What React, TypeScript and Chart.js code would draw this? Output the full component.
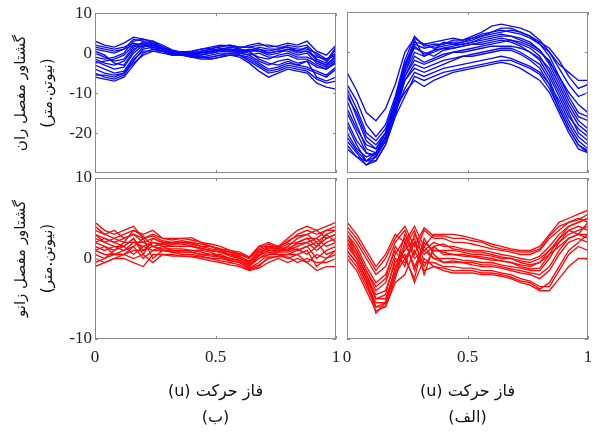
import React, { useEffect, useRef } from 'react';
import { Chart, registerables } from 'chart.js';

Chart.register(...registerables);

// movement phase u
const U = [0, 0.04, 0.08, 0.12, 0.16, 0.2, 0.24, 0.28, 0.32, 0.36, 0.4, 0.44, 0.48, 0.52, 0.56, 0.6, 0.64, 0.68, 0.72, 0.76, 0.8, 0.84, 0.88, 0.92, 0.96, 1];

const X_TICKS = [0, 0.5, 1];
const HIP_Y_TICKS = [10, 0, -10, -20];
const KNEE_Y_TICKS = [10, 0, -10];

const Y_TITLE_HIP = ['\u202Bگشتاور مفصل ران\u202C', '\u202B(نیوتن.متر)\u202C'];
const Y_TITLE_KNEE = ['\u202Bگشتاور مفصل زانو\u202C', '\u202B(نیوتن.متر)\u202C'];
const X_TITLE_B = ['\u202Bفاز حرکت (u)\u202C', '\u202B(ب)\u202C'];
const X_TITLE_ALEF = ['\u202Bفاز حرکت (u)\u202C', '\u202B(الف)\u202C'];

// hip moment, panel (ب)
const HIP_B = [
  [3, 2, 1.5, 2.5, 4, 3.5, 2.5, 1.5, 0.5, 0.3, 0.5, 1, 1.5, 2, 1.8, 1.2, 2, 2.5, 1.5, 1.8, 2.5, 2, 3, 0.5, -0.5, 2],
  [1, 0.5, 0, 1, 3.5, 3, 2, 1, 0, 0, -0.3, 0.5, 0.8, 1, 1.5, 1, 0.5, 1, 0, 0.5, 1, 0, 0.5, -1, -1.5, 0],
  [-1, -1.5, -1, 0, 3, 3.5, 3, 2, 0.8, 0.2, 0, 0.2, 0.5, 1.2, 1, 0.5, 0, -1, -1.5, -0.5, 0, -1, -1, -2, -3, -1],
  [-3, -4, -5, -4.5, -1, 1.5, 2, 1.2, 0.5, 0, -0.5, -0.5, 0, 0.5, 0.5, 0, -0.5, -2, -3, -2, -1.5, -2.5, -2, -3.5, -4, -2.5],
  [-5, -6, -6.5, -5.5, -2, 1, 1.5, 1, 0, -0.3, -0.8, -1, -0.5, 0, 0, -0.5, -1.5, -3, -4.5, -4, -3, -3.5, -4, -5, -6, -4],
  [-6, -6.5, -7, -6, -3, 0, 1, 0.5, -0.5, -0.5, -1, -1.5, -1.5, -1, -0.5, -1, -2.5, -4.5, -6, -5, -4, -4.5, -5, -7.5, -8.5, -9],
  [2, 1.5, 1, 1.5, 2.5, 2, 1.5, 0.5, 0, 0.2, 0.3, 1, 1.2, 1.5, 2, 1.5, 1.5, 2, 2, 1.5, 1.5, 1, 1, 0, -1.5, -0.5],
  [0, -1, -2, -1.5, 1.5, 2.5, 2.5, 1.5, 0.5, 0, -0.2, 0, 0.3, 0.8, 1, 0.5, 1, 0.5, -0.5, 0, 1, 0.5, 0.5, -1.5, -2.5, 1],
  [-2, -3, -4, -3.5, 0, 2, 1.5, 0.5, 0, -0.5, -0.5, -1, -1, -0.5, 0, 0, 0.5, -1.5, -2.5, -3, -2, -3, -3.5, -4.5, -5.5, -3.5],
  [-4, -5, -5.5, -5, -2.5, -0.5, 0.5, 0, -0.5, -0.5, -0.8, -1.2, -1, -0.5, -0.5, -0.5, -1, -2.5, -4, -3.5, -2.5, -3, -2, -6, -7, -6],
  [1.5, 1, 0.5, 1, 2, 1.5, 3, 1.5, 0.5, 0.3, 0, 0.5, 1, 1.8, 2, 1.5, 1.5, 1, 0.5, 1, 2, 1.5, 2, -0.5, -2, 1.5],
  [-2.5, -2, -1.5, -0.5, 2, 2.5, 1, 0.5, -0.5, -0.3, -0.5, -0.5, 0, 0.5, 0.5, 0, -0.5, 0, -1, -1, -0.5, -1.5, -1.5, -3, -4, -2],
  [0.5, -0.5, -2.5, -3, 0.5, 3, 2, 1, 0.3, 0, 0.3, 0.2, 0.5, 1, 0.8, 0.3, 0.5, 1.5, 1, 1, 1.5, 0.5, 1.5, -2, -3, -0.5],
  [-5.5, -5.5, -6, -5, -1.5, 0.5, 0.5, 0.5, -0.3, -0.5, -1, -1, -1.5, -1, -0.5, -0.5, -2, -3.5, -5, -4.5, -3.5, -4, -4.5, -6.5, -7.5, -7],
  [-1.5, -2.5, -3, -2, 1, 2, 2.5, 1, 0.3, 0, -0.3, -0.3, 0, 0.5, 1, 0.8, 0.5, 0.5, 0, 0.5, 0.5, -0.5, 0, -2.5, -3.5, -1.5],
];

// hip moment, panel (الف)
const HIP_ALEF = [
  [-5, -9.5, -15, -17, -14, -8, 0, 3.5, 2, 2.5, 3, 3.5, 3, 4, 5, 6.5, 7, 6.5, 6, 5, 3, 0, -3, -5, -7, -7],
  [-10, -16, -22, -24, -20, -13, -4, 2, 1, 1.5, 2, 2.5, 2.5, 3, 4, 5, 6, 6, 5, 4, 2, -1, -6, -10, -13, -15],
  [-15, -20, -25, -26, -22, -14, -5, 0, -1, 0, 1, 1.5, 2, 2.5, 3, 3.5, 4, 4, 3.5, 2.5, 0.5, -3, -8, -13, -17, -19],
  [-18, -23, -27, -27, -23, -16, -6, -2, -3, -2, -1, 0, 0.5, 1, 1.5, 2, 2.5, 3, 2, 1, -1, -5, -10, -15, -20, -22],
  [-22, -25, -28, -26, -21, -15, -7, -4, -5, -4, -3, -2, -1, -0.5, 0, 0.5, 1, 1, 0, -1.5, -3, -7, -13, -18, -22, -24],
  [-24, -26, -27, -25, -20, -14, -10, -7, -8.5, -7, -6, -5, -4.5, -4, -3.5, -3, -2.5, -3, -4, -5.5, -7, -10, -15, -20, -24, -25],
  [-8, -12, -18, -21, -18, -11, -2, 4, 1.5, 2, 2, 3, 3, 3.5, 4.5, 5, 5.5, 5, 4.5, 3.5, 2, 0, -4, -8, -11, -10],
  [-12, -18, -24, -25, -21, -12, -3, 1, 0, -1, 0.5, 1, 1.5, 2, 2.5, 3, 3.5, 3, 2.5, 1.5, 0, -2, -7, -12, -16, -17],
  [-20, -24, -26, -25, -22, -15, -7, -3, -4, -3, -2, -1.5, -1, -1, -0.5, 0, 0.5, 0.5, -0.5, -2, -4, -8, -14, -19, -23, -25],
  [-14, -19, -23, -24, -20, -13, -5, 1.5, -0.5, 0.5, 1, 1, 1.5, 2, 2, 2.5, 3, 2.5, 1.5, 0, -2, -6, -11, -16, -19, -21],
  [-17, -22, -25, -25.5, -21, -14, -6, -1, -2.5, -1.5, -0.5, 0, 0, 0.5, 1, 1.5, 1.5, 1.5, 1, 0, -1.5, -4, -9, -14, -18, -20],
  [-9, -14, -20, -22, -19, -12, -3, 2.5, 2, 1, 1.5, 2, 2.5, 3.5, 4, 4.5, 5, 5.5, 5, 4, 2.5, 1, -2, -6, -9, -8],
  [-21, -24.5, -27, -26, -22, -15, -9, -5, -6, -5, -4, -3.5, -3, -2.5, -2, -1.5, -1, -1.5, -2.5, -3.5, -5, -8, -12, -17, -21, -23],
  [-11, -15, -21, -23, -20, -12, -3.5, 3, -1, 0.5, 2.5, 2, 2, 2.5, 3.5, 4, 4.5, 4, 3, 2, 0.5, -2.5, -6, -11, -15, -16],
  [-23, -26, -28, -27, -23, -16, -11, -6, -7, -6, -5, -4.5, -4, -3.5, -3, -2.5, -2, -2, -3, -4, -5.5, -9, -14, -19, -23, -24.5],
];

// knee moment, panel (ب)
const KNEE_B = [
  [4.5, 3.5, 3, 3.5, 4, 2.5, 3, 2.5, 2.3, 2.5, 2.6, 2, 1.8, 1.5, 1, 0.8, 0.2, 1.5, 2, 1.5, 2.5, 3.5, 4, 3.5, 4, 4.5],
  [3, 2.5, 2, 2.5, 3, 2, 2.5, 2, 2, 2, 2, 1.5, 1.5, 1, 0.5, 0.5, 0, 1, 1.5, 1, 1.5, 2.5, 3, 2, 3, 3.5],
  [2, 1.5, 1, 2, 2, 1.5, 2, 1.5, 1.5, 1.5, 1.5, 1.2, 1, 0.8, 0.3, 0, -0.5, 0.5, 1, 1, 1, 1.5, 2, 1, 2, 2.5],
  [1, 0.5, 0.5, 1, 1.5, 2.5, 0, 1, 1, 1, 1, 0.8, 0.5, 0.5, 0, -0.3, -1, 0, 0.8, 0.5, 0.5, 1, 1.5, 0, 1, 1.5],
  [0, -0.5, 0, 0.5, 1, 1, 1.5, 1, 0.8, 0.5, 0.5, 0.3, 0, 0, -0.3, -0.5, -1.2, -0.5, 0.5, 0.5, 0, 0.5, 1, -1, 0, 0.5],
  [-1, -0.5, 0, 0, -0.5, -1, 0.5, 0.5, 0.3, 0.3, 0.2, 0, -0.3, -0.5, -0.8, -1, -1.5, -1.2, -0.5, 0, -0.5, 0, -0.5, -1.5, -1, -1],
  [3.5, 3, 2.5, 3, 3.5, 3, 3.5, 2.5, 2.5, 2.5, 2.3, 2, 1.5, 1.2, 1, 0.5, 0, 1.5, 1.5, 1.5, 2, 3, 3.5, 3, 3.5, 4],
  [2.5, 2, 1.5, 1.5, 2.5, 0.5, 2.5, 2, 1.8, 2, 1.8, 1.5, 1.2, 1, 0.8, 0.3, -0.5, 0.8, 1.2, 1.2, 1.8, 2, 2.5, 2.5, 1.5, 2],
  [1.5, 1, 1.5, 1, 2, 2, 1.5, 1.2, 1.2, 1.2, 1, 1, 0.8, 0.3, 0, -0.2, -1, 0.3, 1, 0.8, 0.8, 1.2, 0.5, 1.5, 2.5, 3],
  [0.5, 0, 1, 1.5, 0.5, 1.5, 1, 1.5, 1, 0.8, 0.8, 0.5, 0.3, 0.2, -0.2, -0.5, -1.3, -0.8, 0, 0.3, 0.5, 0.5, -0.5, 0.5, 0, 1],
  [4, 3, 3.5, 2.5, 3, 2.5, 2.8, 2.2, 2, 2.2, 2, 1.8, 1.5, 1.2, 0.8, 0.6, 0.1, 1.2, 1.8, 1.3, 2.2, 2.8, 3, 3.5, 2.5, 3],
  [-0.5, 0, 0.5, 0.5, 0, 0.5, -0.5, 0.5, 0.5, 0.3, 0.3, 0.2, 0, -0.3, -0.5, -0.8, -1.4, -1, 0.2, 0.2, 0.2, -0.5, 0, -0.5, -0.5, 0],
  [2, 2.5, 2, 1.5, 2.5, 1, 2, 1.8, 1.5, 1.5, 1.5, 1.2, 1, 0.8, 0.5, 0.2, -0.3, 0.8, 1.3, 1.5, 1, 2, 2.5, 1.5, 3, 2],
  [1, 1.5, 0.5, 0.5, 1.5, 0, 1, 1, 0.8, 0.8, 0.8, 0.5, 0.5, 0.3, 0, -0.3, -0.8, 0, 0.5, 0.8, 1.5, 1, 1.5, 2, 0.5, 1],
  [3, 2, 2.5, 2, 3.5, 2.8, 1.5, 1.8, 1.8, 1.8, 1.6, 1.3, 1, 0.8, 0.5, 0, -0.7, 0.5, 1.5, 1.2, 1.2, 1.8, 2, 2.5, 3.5, 3.5],
];

// knee moment, panel (الف)
const KNEE_ALEF = [
  [4.5, 3, 1, -1, 0.5, 3, 2, 4, 1.5, 3, 3, 3, 2.8, 2.5, 2.2, 1.8, 1.5, 1.2, 1, 1, 1.5, 3, 4.5, 5, 5.5, 6],
  [3.5, 2, 0, -2, -1, 2, 3.5, 0.5, 3.5, 2.5, 2.5, 2, 2, 1.8, 1.5, 1.2, 1, 0.8, 0.5, 0.5, 1, 2.5, 3.5, 4.5, 5, 4.5],
  [3, 1.5, -1, -3, -2, 1, -1, 3, 1, 2, 1.5, 1.5, 1.2, 1, 1, 0.8, 0.5, 0.3, 0, -0.2, 0.3, 1.5, 3, 4, 4.5, 5],
  [2.5, 1, -1.5, -4, -3, 0.5, 2.5, -1.5, 2, 1, 1, 1, 0.8, 0.5, 0.5, 0.3, 0, 0, -0.3, -0.5, 0, 1, 2, 3.5, 4, 3.5],
  [2, 0.5, -2, -4.5, -4, -0.5, 1, 2.5, -2, 1.5, 0.5, 0.5, 0.3, 0.2, 0, -0.2, -0.3, -0.5, -0.8, -1, -0.5, 0.5, 1.5, 2.5, 3, 2.5],
  [1.5, 0, -2.5, -5, -5, -1.5, 3, 0, 1, 0, 0, 0, -0.2, -0.3, -0.5, -0.5, -0.8, -1, -1.2, -1.5, -1.5, 0, 2, 3, 3.5, 4],
  [1, -0.5, -3, -5.5, -5.5, -2, 0, -2.5, 2.5, 0.5, -0.5, -0.5, -0.5, -0.8, -1, -1, -1.2, -1.5, -1.8, -2, -2.5, -1.5, 0.5, 2, 2.5, 2],
  [0.5, -1, -3.5, -6, -6, -2.5, 1.5, 3.5, -0.5, -0.5, -1, -1, -1.2, -1.2, -1.5, -1.5, -1.8, -2, -2.5, -2.8, -3.5, -3.5, -1.5, 0.5, 1.5, 1],
  [0, -1.5, -4, -6.5, -6, -3, -2, 1, -1.5, -1, -1.5, -1.8, -1.8, -1.8, -2, -2, -2.2, -2.5, -3, -3.3, -4, -4, -2.5, -1, 0, 0],
  [2, 0, -2.5, -6.8, -5.5, -1, 0.5, -3, 0, -1, -1.2, -1.5, -1.5, -1.5, -1.8, -1.8, -2, -2.3, -2.8, -3, -3.8, -3, -1, 1, 2, 3],
  [4, 2.5, 0.5, -1.5, 0, 2.5, 4, 1.5, 3.8, 2.8, 2.8, 2.5, 2.5, 2.2, 2, 1.5, 1.2, 1, 0.8, 0.8, 1.2, 2.8, 4, 4.5, 4.8, 5.5],
  [3, 1, -1.5, -3.5, -2.5, 1.5, 0, 2, 0.5, 1.5, 1.8, 1.2, 1, 0.8, 0.8, 0.5, 0.2, 0, -0.5, -0.8, -0.5, 1, 2.5, 3.5, 3, 4.5],
  [1, -0.5, -3, -6, -5.5, -2, 2, -1, 1.5, 0, -0.5, -0.3, -0.5, -0.5, -0.8, -0.8, -1, -1.3, -1.5, -1.8, -2, -1, 1, 2.5, 3, 3],
  [2.5, 0.5, -2, -5, -4.5, 0, -0.5, 2, -1, 1, 0.8, 0.5, 0.5, 0.3, 0.2, 0, -0.3, -0.5, -1, -1.3, -1.2, 0.5, 2.5, 4, 4.5, 5],
];

const SERIF = "'Liberation Serif', 'Times New Roman', serif";
const PERSIAN = "'DejaVu Sans', sans-serif";
const FRAME = '#8a8a8a';

const framePlugin = {
  id: 'frame',
  afterDatasetsDraw(chart: any) {
    const { ctx, chartArea: a, scales } = chart;
    const yTicks: number[] = chart.options.plugins.frame.yTicks;
    ctx.save();
    ctx.strokeStyle = FRAME;
    ctx.lineWidth = 1;
    ctx.strokeRect(Math.round(a.left) + 0.5, Math.round(a.top) + 0.5, Math.round(a.width) - 1, Math.round(a.height) - 1);
    ctx.beginPath();
    for (const v of X_TICKS) {
      const px = Math.round(scales.x.getPixelForValue(v)) + 0.5;
      ctx.moveTo(px, a.top); ctx.lineTo(px, a.top + 3);
      ctx.moveTo(px, a.bottom); ctx.lineTo(px, a.bottom - 3);
    }
    for (const v of yTicks) {
      const py = Math.round(scales.y.getPixelForValue(v)) + 0.5;
      ctx.moveTo(a.left, py); ctx.lineTo(a.left + 3, py);
      ctx.moveTo(a.right, py); ctx.lineTo(a.right - 3, py);
    }
    ctx.stroke();
    ctx.restore();
  },
};

type PanelCfg = {
  series: number[][];
  color: string;
  yMin: number;
  yMax: number;
  yTicks: number[];
  yTitle?: string[];
  xTitle?: string[];
  left: number;
  top: number;
  w: number;
  h: number;
  padding: { left: number; right: number; top: number; bottom: number };
};

function makeConfig(p: PanelCfg): any {
  const showX = !!p.xTitle;
  const showY = !!p.yTitle;
  return {
    type: 'line',
    data: {
      datasets: p.series.map((s) => ({
        data: s.map((v, i) => ({ x: U[i], y: v })),
        borderColor: p.color,
        borderWidth: 1.35,
        pointRadius: 0,
        tension: 0,
        fill: false,
      })),
    },
    options: {
      animation: false,
      responsive: false,
      events: [],
      layout: { padding: p.padding },
      plugins: {
        legend: { display: false },
        tooltip: { enabled: false },
        frame: { yTicks: p.yTicks },
      },
      scales: {
        x: {
          type: 'linear',
          min: 0,
          max: 1,
          display: showX,
          grid: { display: false, drawTicks: false },
          border: { display: false },
          ticks: {
            stepSize: 0.5,
            padding: 8,
            maxRotation: 0,
            autoSkip: false,
            color: '#222',
            font: { family: SERIF, size: 17 },
            callback: (v: number) => String(Number(v)),
          },
          title: {
            display: showX,
            text: p.xTitle,
            color: '#111',
            font: { family: PERSIAN, size: 16, lineHeight: 26 / 16 },
            padding: { top: 0, bottom: 1 },
          },
          afterFit: (s: any) => { if (showX) s.height = 93; },
        },
        y: {
          min: p.yMin,
          max: p.yMax,
          display: showY,
          grid: { display: false, drawTicks: false },
          border: { display: false },
          ticks: {
            stepSize: 10,
            padding: 3,
            autoSkip: false,
            color: '#222',
            font: { family: SERIF, size: 17 },
            callback: (v: number) => (p.yTicks.includes(v) ? String(v) : ''),
          },
          title: {
            display: showY,
            text: p.yTitle,
            color: '#111',
            font: { family: PERSIAN, size: 15, lineHeight: 27 / 15 },
            padding: { top: 8, bottom: 0 },
          },
          afterFit: (s: any) => { if (showY) s.width = 95; },
        },
      },
    },
    plugins: [framePlugin],
  };
}

function Panel({ cfg }: { cfg: PanelCfg }) {
  const ref = useRef<HTMLCanvasElement>(null);
  useEffect(() => {
    const chart = new Chart(ref.current as HTMLCanvasElement, makeConfig(cfg));
    return () => chart.destroy();
  }, []);
  return (
    <canvas
      ref={ref}
      width={cfg.w}
      height={cfg.h}
      style={{ position: 'absolute', left: cfg.left, top: cfg.top, width: cfg.w, height: cfg.h }}
    />
  );
}

const BLUE = 'rgb(10,10,245)';
const RED = 'rgb(250,10,10)';

const PANELS: PanelCfg[] = [
  {
    series: HIP_B, color: BLUE, yMin: -30, yMax: 10, yTicks: HIP_Y_TICKS, yTitle: Y_TITLE_HIP,
    left: 0, top: 0, w: 350, h: 190, padding: { left: 0, right: 14, top: 12, bottom: 17 },
  },
  {
    series: HIP_ALEF, color: BLUE, yMin: -30, yMax: 10, yTicks: HIP_Y_TICKS,
    left: 325, top: 0, w: 277, h: 190, padding: { left: 22, right: 14, top: 12, bottom: 17 },
  },
  {
    series: KNEE_B, color: RED, yMin: -10, yMax: 10, yTicks: KNEE_Y_TICKS, yTitle: Y_TITLE_KNEE, xTitle: X_TITLE_B,
    left: 0, top: 160, w: 350, h: 272, padding: { left: 0, right: 14, top: 18, bottom: 0 },
  },
  {
    series: KNEE_ALEF, color: RED, yMin: -10, yMax: 10, yTicks: KNEE_Y_TICKS, xTitle: X_TITLE_ALEF,
    left: 325, top: 160, w: 277, h: 272, padding: { left: 22, right: 14, top: 18, bottom: 0 },
  },
];

export default function App() {
  return (
    <div style={{ position: 'absolute', left: 0, top: 0, width: 592, height: 432, overflow: 'hidden', background: '#fff' }}>
      {PANELS.map((p, i) => (
        <Panel key={i} cfg={p} />
      ))}
    </div>
  );
}
